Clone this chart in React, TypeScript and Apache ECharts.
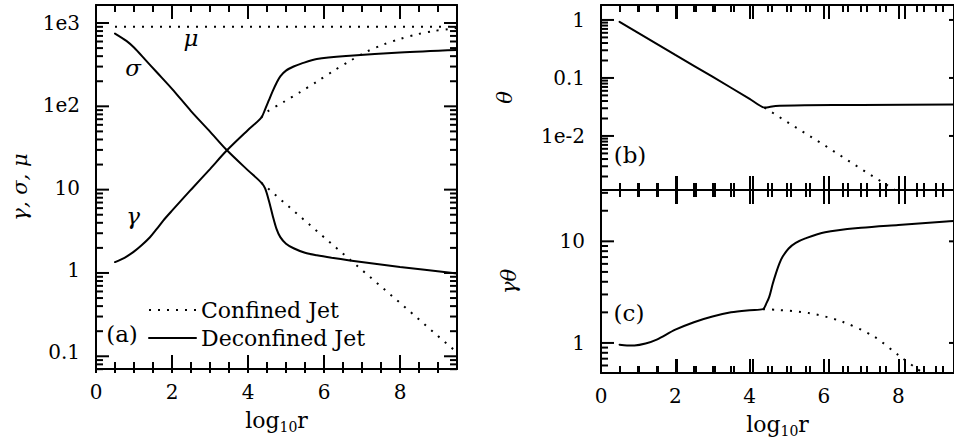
import React, { useEffect, useRef } from "react";
import * as echarts from "echarts";

const FONT = '"DejaVu Serif", "Liberation Serif", serif';

// ---- axis ticks / labels ----
const xRange = [0, 9.5];
const xTicks = [0, 2, 4, 6, 8];
const xMinorTicks = [0.5, 1, 1.5, 2.5, 3, 3.5, 4.5, 5, 5.5, 6.5, 7, 7.5, 8.5, 9];
const yTicksA = [0.1, 1, 10, 100, 1000];
const yTickLabelsA = ["0.1", "1", "10", "1e2", "1e3"];
const yRangeA = [0.063, 1645];
const yTicksB = [0.01, 0.1, 1];
const yTickLabelsB = ["1e-2", "0.1", "1"];
const yRangeB = [0.00117, 1.81];
const yTicksC = [1, 10];
const yTickLabelsC = ["1", "10"];
const yRangeC = [0.506, 32];

// ---- panel (a): gamma, sigma, mu ----
const muConfX = [0.5, 9.5];
const muConfY = [895, 895];

const gammaConfX = [4.35, 4.49, 4.93, 5.37, 5.81, 6.25, 6.68, 7.12, 7.56, 8.0, 8.44, 8.88, 9.5];
const gammaConfY = [70.8, 82.6, 109, 144, 193, 261, 344, 446, 545, 637, 724, 794, 863];

const sigmaConfX = [4.35, 5.0, 6.0, 7.0, 8.0, 9.0, 9.5];
const sigmaConfY = [11.5, 6.3, 2.5, 1.0, 0.4, 0.158, 0.1];

const gammaDeconfX = [0.5, 0.75, 0.98, 1.2, 1.42, 1.6, 1.77, 2.0, 2.5, 3.0, 3.44, 4.0, 4.35, 4.45, 4.55, 4.65, 4.75, 4.85, 5.0, 5.2, 5.4, 5.81, 6.68, 8.0, 9.5];
const gammaDeconfY = [1.25, 1.41, 1.65, 2.0, 2.5, 3.16, 3.98, 5.25, 9.44, 16.8, 28.2, 50.1, 70.8, 89.1, 115, 148, 186, 224, 263, 295, 320, 363, 398, 437, 468];

const sigmaDeconfX = [0.5, 0.8, 1.0, 1.3, 1.6, 2.0, 2.5, 3.0, 3.44, 4.0, 4.35, 4.45, 4.55, 4.65, 4.75, 4.85, 5.0, 5.2, 5.5, 5.81, 6.2, 6.68, 8.0, 9.5];
const sigmaDeconfY = [741, 603, 501, 355, 251, 158, 85, 47.9, 28.6, 16.2, 11.5, 9.77, 6.92, 4.57, 3.16, 2.51, 2.09, 1.84, 1.62, 1.51, 1.41, 1.31, 1.09, 0.91];

// ---- panel (b): theta ----
const thetaDeconfX = [0.5, 1.0, 2.0, 3.0, 4.0, 4.4, 4.7, 5.5, 7.0, 9.5];
const thetaDeconfY = [0.93, 0.6, 0.25, 0.105, 0.0437, 0.0308, 0.033, 0.0338, 0.0343, 0.0347];
const thetaConfX = [4.4, 5.0, 6.0, 7.0, 8.0, 9.0];
const thetaConfY = [0.0308, 0.0176, 0.007, 0.0027, 0.00108, 0.00043];

// ---- panel (c): gamma*theta ----
const gthDeconfX = [0.5, 0.7, 0.9, 1.2, 1.5, 2.0, 2.5, 3.0, 3.5, 4.0, 4.36, 4.45, 4.53, 4.62, 4.71, 4.8, 4.89, 5.05, 5.24, 5.5, 6.03, 7.0, 8.0, 9.29, 9.5];
const gthDeconfY = [0.96, 0.944, 0.946, 0.989, 1.08, 1.35, 1.6, 1.82, 2.0, 2.1, 2.15, 2.45, 2.86, 3.8, 4.86, 6.03, 7.08, 8.51, 9.66, 10.7, 12.3, 13.6, 14.5, 15.7, 15.85];
const gthConfX = [4.36, 4.71, 5.59, 6.47, 7.34, 8.04, 8.48, 8.8];
const gthConfY = [2.15, 2.12, 1.97, 1.63, 1.16, 0.74, 0.565, 0.47];

const zip = (xs: number[], ys: number[]) => xs.map((x, i) => [x, ys[i]]);

const logLabel = (ticks: number[], labels: string[]) => (v: number) => {
  const i = ticks.findIndex((t) => Math.abs(Math.log10(t) - Math.log10(v)) < 1e-6);
  return i >= 0 ? labels[i] : "";
};

const logMinorTicks = (range: number[]) => {
  const out: number[] = [];
  const d0 = Math.floor(Math.log10(range[0]));
  const d1 = Math.ceil(Math.log10(range[1]));
  for (let d = d0; d <= d1; d++) {
    for (let k = 2; k <= 9; k++) {
      const v = k * Math.pow(10, d);
      if (v > range[0] && v < range[1]) out.push(v);
    }
  }
  return out;
};

const BLACK = "#000";
const DOT = [2, 7];
const X_MAJOR = 14;
const X_MINOR = 7;
const Y_MAJOR = 13;
const Y_MINOR = 7;
const TICK_W = 2;

const GRIDS = [
  { left: 96, top: 5, width: 361, height: 368 },
  { left: 601, top: 5, width: 361, height: 185 },
  { left: 601, top: 190, width: 361, height: 183 },
];

const xAxisOf = (grid: number, position: string, showLabels: boolean) => ({
  type: "value",
  gridIndex: grid,
  position,
  min: xRange[0],
  max: xRange[1],
  interval: 2,
  axisLine: { show: true, onZero: false, lineStyle: { color: BLACK, width: 2 } },
  axisTick: { show: true, inside: true, length: X_MAJOR, lineStyle: { color: BLACK, width: 2 } },
  minorTick: { show: true, splitNumber: 4, length: X_MINOR, lineStyle: { color: BLACK, width: 2 } },
  splitLine: { show: false },
  minorSplitLine: { show: false },
  axisLabel: {
    show: showLabels,
    margin: 13,
    color: BLACK,
    fontFamily: FONT,
    fontSize: 20,
    showMaxLabel: false,
    formatter: (v: number) => (xTicks.includes(v) ? String(v) : ""),
  },
  name: showLabels ? "{a|log}{b|10}{a|r}" : "",
  nameLocation: "middle",
  nameGap: 37,
  nameTextStyle: {
    rich: {
      a: { fontFamily: FONT, fontSize: 22, color: BLACK, lineHeight: 28 },
      b: { fontFamily: FONT, fontSize: 14, color: BLACK, lineHeight: 16, verticalAlign: "bottom" },
    },
  },
});

const yAxisOf = (
  grid: number,
  position: string,
  range: number[],
  ticks: number[],
  labels: string[],
  showLabels: boolean,
  name: string,
  nameGap: number
) => ({
  type: "log",
  logBase: 10,
  gridIndex: grid,
  position,
  min: range[0],
  max: range[1],
  axisLine: { show: true, onZero: false, lineStyle: { color: BLACK, width: 2 } },
  axisTick: { show: false },
  minorTick: { show: false },
  splitLine: { show: false },
  minorSplitLine: { show: false },
  axisLabel: {
    show: showLabels,
    margin: 16,
    color: BLACK,
    fontFamily: FONT,
    fontSize: 20,
    showMinLabel: false,
    showMaxLabel: false,
    formatter: logLabel(ticks, labels),
  },
  name: showLabels ? name : "",
  nameLocation: "middle",
  nameRotate: 90,
  nameGap,
  nameTextStyle: { fontFamily: FONT, fontSize: 21, fontStyle: "italic", color: BLACK },
});

// Frame ticks on all four sides of a panel as filled bars, mapped with the same
// linear / log10 transform as that panel's axes (grid box + axis ranges).
const frameTicks = (g: number, yRange: number[], yMajor: number[]) => {
  const grid = GRIDS[g];
  const lo = Math.log10(yRange[0]);
  const hi = Math.log10(yRange[1]);
  const px = (v: number) => grid.left + ((v - xRange[0]) / (xRange[1] - xRange[0])) * grid.width;
  const py = (v: number) => grid.top + grid.height * (1 - (Math.log10(v) - lo) / (hi - lo));
  const L = grid.left;
  const R = grid.left + grid.width;
  const T = grid.top;
  const B = grid.top + grid.height;
  const els: any[] = [];
  const bar = (x: number, y: number, width: number, height: number) =>
    els.push({ type: "rect", shape: { x, y, width, height }, style: { fill: BLACK } });
  const xt = (v: number, len: number) => {
    const x = px(v) - TICK_W / 2;
    bar(x, B - len, TICK_W, len);
    bar(x, T, TICK_W, len);
  };
  const yt = (v: number, len: number) => {
    const y = py(v) - TICK_W / 2;
    bar(L, y, len, TICK_W);
    bar(R - len, y, len, TICK_W);
  };
  xTicks.forEach((v) => xt(v, X_MAJOR));
  xMinorTicks.forEach((v) => xt(v, X_MINOR));
  yMajor.forEach((v) => yt(v, Y_MAJOR));
  logMinorTicks(yRange).forEach((v) => yt(v, Y_MINOR));
  return els;
};

const lineSeries = (
  name: string,
  xi: number,
  yi: number,
  xs: number[],
  ys: number[],
  dotted: boolean,
  smooth: number
) => ({
  type: "line",
  name,
  xAxisIndex: xi,
  yAxisIndex: yi,
  data: zip(xs, ys),
  showSymbol: false,
  symbol: "none",
  smooth,
  clip: true,
  z: dotted ? 2 : 3,
  lineStyle: { color: BLACK, width: 2, type: dotted ? DOT : "solid", cap: dotted ? "butt" : "round" },
});

const textEl = (text: string, x: number, y: number, italic: boolean, size: number) => ({
  type: "text",
  x,
  y,
  style: {
    text,
    fill: BLACK,
    fontFamily: FONT,
    fontSize: size,
    fontStyle: italic ? "italic" : "normal",
    align: "center",
    verticalAlign: "middle",
  },
});

const legendOf = (name: string, top: number) => ({
  show: true,
  left: 148,
  top,
  padding: 0,
  itemWidth: 47,
  itemHeight: 14,
  selectedMode: false,
  data: [name],
  itemStyle: { opacity: 0 },
  textStyle: { fontFamily: FONT, fontSize: 22, color: BLACK },
});

export default function App() {
  const ref = useRef<HTMLDivElement>(null);
  useEffect(() => {
    if (!ref.current) return;
    const chart = echarts.init(ref.current, undefined, { renderer: "svg" });
    chart.setOption({
      animation: false,
      backgroundColor: "#fff",
      grid: GRIDS,
      xAxis: [
        xAxisOf(0, "bottom", true),
        xAxisOf(0, "top", false),
        xAxisOf(1, "bottom", false),
        xAxisOf(1, "top", false),
        xAxisOf(2, "bottom", true),
        xAxisOf(2, "top", false),
      ],
      yAxis: [
        yAxisOf(0, "left", yRangeA, yTicksA, yTickLabelsA, true, "γ, σ, μ", 66),
        yAxisOf(0, "right", yRangeA, yTicksA, yTickLabelsA, false, "", 0),
        yAxisOf(1, "left", yRangeB, yTicksB, yTickLabelsB, true, "θ", 86),
        yAxisOf(1, "right", yRangeB, yTicksB, yTickLabelsB, false, "", 0),
        yAxisOf(2, "left", yRangeC, yTicksC, yTickLabelsC, true, "γθ", 82),
        yAxisOf(2, "right", yRangeC, yTicksC, yTickLabelsC, false, "", 0),
      ],
      legend: [legendOf("Confined Jet", 299), legendOf("Deconfined Jet", 327)],
      series: [
        lineSeries("Confined Jet", 0, 0, muConfX, muConfY, true, 0),
        lineSeries("Confined Jet", 0, 0, gammaConfX, gammaConfY, true, 0.3),
        lineSeries("Confined Jet", 0, 0, sigmaConfX, sigmaConfY, true, 0),
        lineSeries("Deconfined Jet", 0, 0, gammaDeconfX, gammaDeconfY, false, 0.3),
        lineSeries("Deconfined Jet", 0, 0, sigmaDeconfX, sigmaDeconfY, false, 0.3),
        lineSeries("Confined Jet", 2, 2, thetaConfX, thetaConfY, true, 0),
        lineSeries("Deconfined Jet", 2, 2, thetaDeconfX, thetaDeconfY, false, 0.2),
        lineSeries("Confined Jet", 4, 4, gthConfX, gthConfY, true, 0.3),
        lineSeries("Deconfined Jet", 4, 4, gthDeconfX, gthDeconfY, false, 0.3),
      ],
      graphic: [
        textEl("μ", 191, 38, true, 23),
        textEl("σ", 133, 68, true, 23),
        textEl("γ", 133, 216, true, 23),
        textEl("(a)", 122, 334, false, 23),
        textEl("(b)", 630, 155, false, 23),
        textEl("(c)", 629, 313, false, 23),
        ...frameTicks(0, yRangeA, yTicksA),
        ...frameTicks(1, yRangeB, yTicksB),
        ...frameTicks(2, yRangeC, yTicksC),
      ],
    });
    return () => chart.dispose();
  }, []);
  return (
    <div
      ref={ref}
      style={{ position: "fixed", left: 0, top: 0, width: 954, height: 439, background: "#fff" }}
    />
  );
}
